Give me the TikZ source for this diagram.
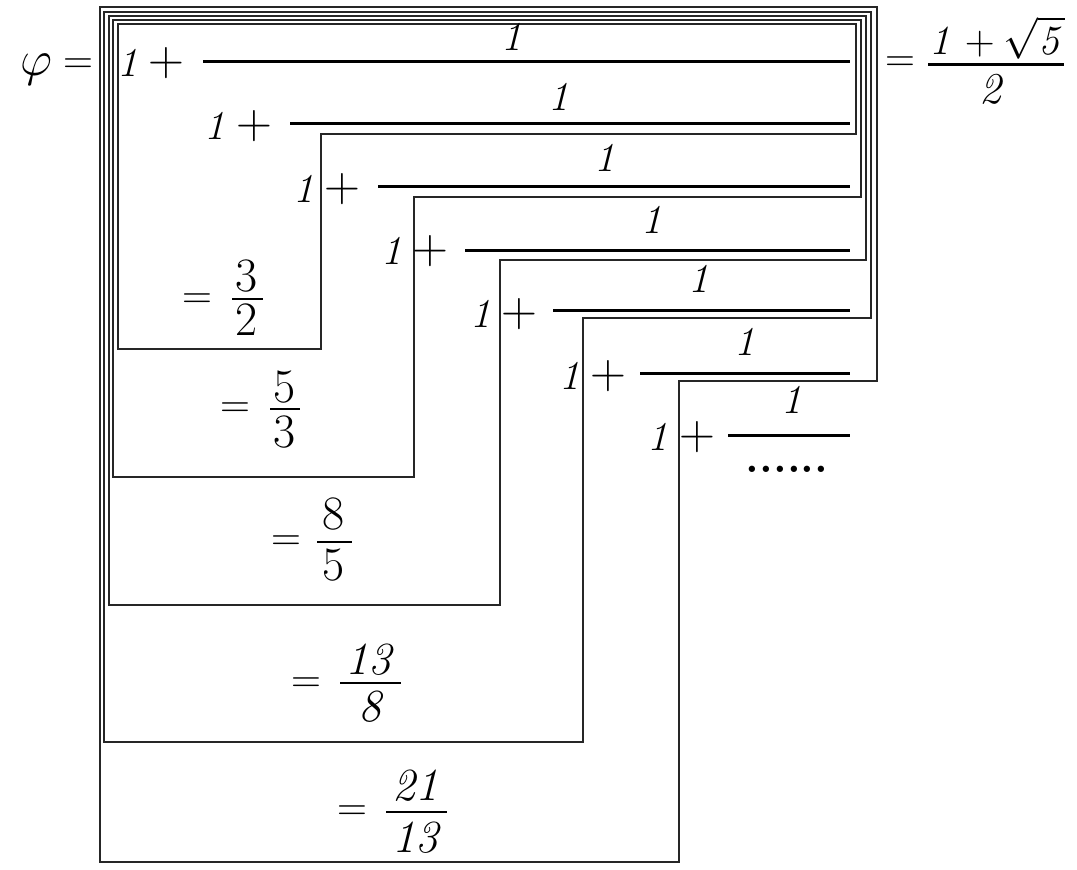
\documentclass[tikz,border=0pt]{standalone}
\usepackage{amsmath}
\begin{document}
\begin{tikzpicture}[x=0.5pt,y=-0.5pt,
  frame/.style={draw=black!85, line width=0.75pt, line join=miter},
  fbar/.style={draw=black, line width=1.5pt},
  one/.style={inner sep=0pt, font=\fontsize{20.5}{24}\selectfont\itshape},
  plus/.style={inner sep=0pt, font=\fontsize{23}{27}\selectfont},
  eqs/.style={inner sep=0pt, font=\fontsize{21}{25}\selectfont},
  digu/.style={inner sep=0pt, font=\fontsize{24}{28}\selectfont},
  digi/.style={inner sep=0pt, font=\fontsize{23}{27}\selectfont\itshape}]
\useasboundingbox (0,0) rectangle (1077,869);
% nested staircase frames
\draw[frame] (100,7) -- (877,7) -- (877,381) -- (679,381) -- (679,862) -- (100,862) -- cycle;
\draw[frame] (104,12) -- (871,12) -- (871,318) -- (583,318) -- (583,742) -- (104,742) -- cycle;
\draw[frame] (109,16) -- (866,16) -- (866,260) -- (500,260) -- (500,605) -- (109,605) -- cycle;
\draw[frame] (113,20) -- (861,20) -- (861,197) -- (414,197) -- (414,477) -- (113,477) -- cycle;
\draw[frame] (118,24) -- (856,24) -- (856,134) -- (321,134) -- (321,349) -- (118,349) -- cycle;
% continued fraction rows
\foreach \i/\ox/\px/\ry/\bx/\by/\nx/\ny in {
  1/128/166/63/203/61/512/37,
  2/215/254/126/290/123/559/97,
  3/304/342/189/378/186/605/158,
  4/392/430/251/465/250/652/220,
  5/481/519/314/553/310/699/279,
  6/570/608/376/640/373/745/342,
  7/658/697/437/728/435/792/400}{
  \node[one] (one\i) at (\ox,\ry) {1};
  \node[plus] (plus\i) at (\px,\ry) {$+$};
  \node[one] (num\i) at (\nx,\ny) {1};
  \draw[fbar] (\bx,\by) -- (850,\by);
}
\node[inner sep=0pt, font=\fontsize{22}{26}\selectfont\bfseries] (dots) at (787,469) {......};
% left side
\node[inner sep=0pt, font=\fontsize{27}{31}\selectfont] (phi) at (36,70) {$\varphi$};
\node[eqs] (eq0) at (78,66) {$=$};
% right side
\node[eqs] (eqr) at (900,64) {$=$};
\node[inner sep=0pt, anchor=base, font=\fontsize{20}{24}\selectfont] (rnum) at (997,54) {$\mathit{1}+\smash{\sqrt{\mathit{5}}}$};
\draw[fbar] (928,64) -- (1064,64);
\node[inner sep=0pt, font=\fontsize{22}{26}\selectfont\itshape] (rden) at (990,89) {2};
% partial values
\node[eqs] (eqa) at (197,301) {$=$};
\node[digu] (na) at (247,276) {3};
\draw[line width=1.2pt] (232,299) -- (263,299);
\node[digu] (da) at (247,320) {2};

\node[eqs] (eqb) at (235,410) {$=$};
\node[digu] (nb) at (285,387) {5};
\draw[line width=1.2pt] (270,409) -- (300,409);
\node[digu] (db) at (285,432) {3};

\node[eqs] (eqc) at (286,543) {$=$};
\node[digu] (nc) at (334,514) {8};
\draw[line width=1.2pt] (317,542) -- (352,542);
\node[digu] (dc) at (334,565) {5};

\node[eqs] (eqd) at (306,685) {$=$};
\node[digi] (nd) at (368,660) {13};
\draw[line width=1.2pt] (340,683) -- (401,683);
\node[digi] (dd) at (370,707) {8};

\node[eqs] (eqe) at (352,813) {$=$};
\node[digi] (ne) at (415,786) {21};
\draw[line width=1.2pt] (386,812) -- (447,812);
\node[digi] (de) at (415,838) {13};
\end{tikzpicture}
\end{document}
